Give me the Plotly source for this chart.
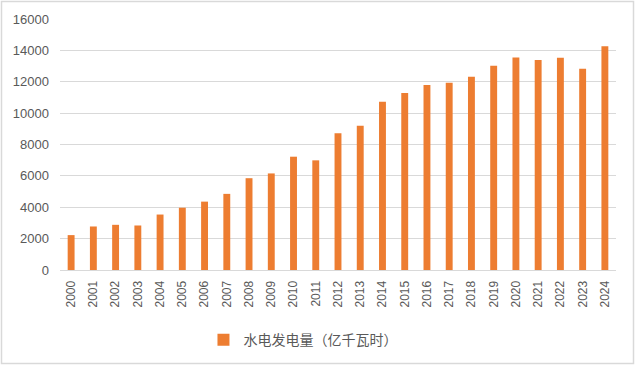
import plotly.graph_objects as go

years = [str(y) for y in range(2000, 2025)]
generation = [2224, 2774, 2880, 2837, 3535, 3970, 4358, 4853, 5852, 6156,
              7222, 6990, 8721, 9203, 10728, 11290, 11800, 11940, 12321, 13021,
              13552, 13390, 13522, 12836, 14257]
series_name = "水电发电量（亿千瓦时）"
y_ticks = [0, 2000, 4000, 6000, 8000, 10000, 12000, 14000, 16000]
y_tick_labels = [str(v) for v in y_ticks]

W, H = 635, 365
ml, mr, mt, mb = 60, 19, 19, 95

fig = go.Figure()
fig.add_trace(go.Bar(
    x=years, y=generation, name=series_name,
    marker=dict(color="#ED7D31", line=dict(width=0)),
    showlegend=True,
))

fig.update_layout(
    width=W, height=H,
    margin=dict(l=ml, r=mr, t=mt, b=mb, autoexpand=False),
    paper_bgcolor="white", plot_bgcolor="white",
    bargap=0.69,
    font=dict(family="Liberation Sans, Arial, sans-serif", color="#595959"),
    showlegend=True,
    legend=dict(orientation="h", x=0.437, xanchor="center", y=-0.279, yanchor="middle",
                font=dict(family="Noto Sans CJK SC", size=14, color="#595959"),
                itemwidth=30),
    xaxis=dict(type="category", tickangle=-90, tickfont=dict(size=12, color="#595959"),
               showgrid=False, showline=True, linecolor="#d9d9d9", linewidth=1,
               ticks="", ticklen=0, automargin=False, ticklabelstandoff=5),
    yaxis=dict(range=[0, 16000], tickvals=y_ticks, ticktext=y_tick_labels,
               tickfont=dict(size=13, color="#595959"),
               showgrid=True, gridcolor="#d9d9d9", gridwidth=1, zeroline=False,
               showline=False, ticks="", ticklabelstandoff=10, automargin=False),
    shapes=[dict(type="rect", xref="paper", yref="paper",
                 x0=-(ml - 1.5) / (W - ml - mr), x1=1 + (mr - 1.5) / (W - ml - mr),
                 y0=-(mb - 1.5) / (H - mt - mb), y1=1 + (mt - 1.5) / (H - mt - mb),
                 line=dict(color="#d9d9d9", width=1.5), layer="above")],
)

fig.write_html("out.html", config={"displayModeBar": False},
               post_script="document.body.style.margin='0';document.body.style.overflow='hidden';")
